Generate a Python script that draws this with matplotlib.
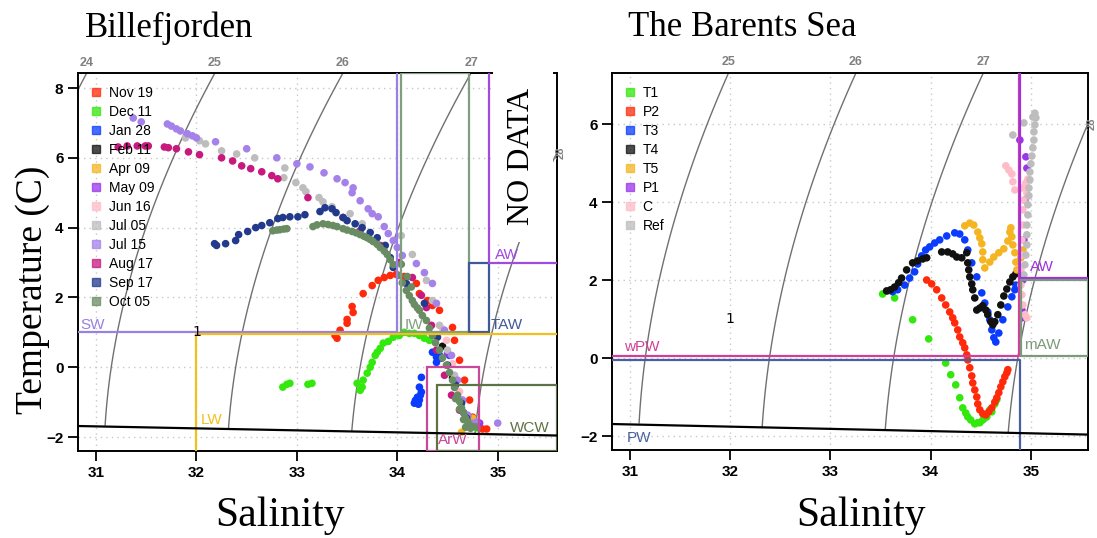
import numpy as np
import matplotlib
matplotlib.use('Agg')
import matplotlib.pyplot as plt
from matplotlib.lines import Line2D
from matplotlib.patches import Rectangle

# ---------------- Billefjorden (salinity / temperature) ----------------
nov19_s = [33.38, 33.40, 33.43, 33.50, 33.50, 33.56, 33.55, 33.66, 33.75, 33.81, 33.87, 33.93, 33.99, 34.07,
           34.19, 34.22, 34.30, 34.35, 34.42, 34.55, 34.57, 34.62, 34.67, 34.72, 34.75, 34.80, 34.85, 34.89]
nov19_t = [0.91, 0.83, 1.06, 1.26, 1.37, 1.57, 1.74, 2.11, 2.34, 2.49, 2.57, 2.63, 2.66, 2.60,
           2.40, 2.11, 1.91, 1.77, 1.63, 1.14, 0.77, 0.20, -0.37, -0.94, -1.43, -1.60, -1.77, -1.77]

dec11_s = [32.86, 32.90, 32.93, 33.11, 33.15, 33.60, 33.63, 33.65, 33.66, 33.70, 33.73, 33.75, 33.78,
           33.80, 33.83, 33.86, 33.91, 33.96, 34.02, 34.07, 34.12, 34.17, 34.22, 34.27, 34.32, 34.79]
dec11_t = [-0.57, -0.49, -0.46, -0.49, -0.46, -0.46, -0.66, -0.57, -0.37, -0.17, 0.00, 0.14, 0.34,
           0.43, 0.54, 0.69, 0.74, 0.86, 0.91, 1.00, 0.97, 0.97, 0.91, 0.83, 0.77, -1.74]

jan28_s = [34.35, 34.39, 34.42, 34.44, 34.39, 34.24, 34.22, 34.24, 34.20, 34.19, 34.22, 34.17, 34.21,
           34.18, 34.23, 34.52, 34.58, 34.66]
jan28_t = [0.43, 0.29, 0.34, 0.26, 0.14, -0.29, -0.57, -0.71, -0.86, -1.00, -0.94, -1.03, -1.06,
           -0.95, -0.80, 0.34, -0.40, -1.30]

feb11_s = [34.45, 34.55, 34.63, 34.70]
feb11_t = [0.60, -0.30, -1.00, -1.50]

apr09_s = [34.64, 34.70, 34.75]
apr09_t = [-1.86, -1.70, -1.46]

may09_s = [34.50, 34.60, 34.70, 34.82]
may09_t = [0.40, -0.90, -1.40, -1.60]

jun16_s = [34.45, 34.49, 34.55, 34.62]
jun16_t = [1.10, 0.77, 0.10, -0.70]

jul05_s = [31.89, 32.03, 32.09, 32.25, 32.40, 32.58, 32.88, 32.87, 32.99, 33.06, 33.09, 33.22, 33.26,
           33.35, 33.53, 33.65, 34.04, 34.15, 34.29, 34.35, 34.42, 34.50, 34.57, 34.64, 34.69]
jul05_t = [6.57, 6.49, 6.40, 6.20, 6.11, 6.00, 5.71, 5.43, 5.29, 5.14, 5.03, 4.86, 4.74,
           4.60, 4.40, 4.11, 3.77, 3.23, 2.49, 1.91, 1.20, 0.49, -0.23, -0.94, -1.46]

jul15_s = [31.37, 31.45, 31.71, 31.75, 31.80, 31.84, 31.91, 31.96, 32.00, 32.19, 32.50, 32.80, 33.00,
           33.13, 33.27, 33.40, 33.48, 33.56, 33.55, 33.63, 33.71, 33.75, 33.81, 33.87, 33.91, 33.96,
           34.00, 34.05, 34.19, 34.27, 34.35, 34.39, 34.47, 34.54, 34.60, 34.65, 34.70, 34.74, 34.79, 35.00]
jul15_t = [7.14, 7.03, 6.97, 6.91, 6.83, 6.77, 6.69, 6.63, 6.57, 6.46, 6.26, 6.00, 5.83,
           5.74, 5.57, 5.40, 5.29, 5.14, 5.00, 4.77, 4.54, 4.40, 4.31, 4.03, 3.83, 3.63,
           3.43, 3.20, 2.97, 2.71, 2.40, 1.83, 1.06, 0.34, -0.37, -0.94, -1.37, -1.60, -1.57, -1.60]

aug17_s = [31.22, 31.31, 31.41, 31.49, 31.52, 31.68, 31.72, 31.80, 31.92, 32.03, 32.25, 32.36, 32.45,
           32.54, 32.65, 32.75, 32.81, 33.11, 33.46, 33.63, 33.83, 34.02, 34.15, 34.24, 34.29, 34.34,
           34.39, 34.47, 34.54, 34.62, 34.69]
aug17_t = [6.31, 6.34, 6.34, 6.34, 6.34, 6.31, 6.29, 6.26, 6.17, 6.09, 6.00, 5.91, 5.77,
           5.69, 5.60, 5.49, 5.40, 4.86, 4.29, 3.91, 3.49, 3.00, 2.57, 2.06, 1.71, 1.20,
           0.49, -0.23, -0.80, -1.23, -1.51]

sep17_s = [32.18, 32.20, 32.29, 32.39, 32.42, 32.51, 32.59, 32.65, 32.73, 32.81, 32.86, 32.93, 33.01,
           33.08, 33.23, 33.28, 33.35, 33.39, 33.46, 33.50, 33.58, 33.65, 33.73, 33.80, 33.88, 33.93,
           33.96, 34.09, 34.27, 34.40, 34.50, 34.58, 34.64, 34.69]
sep17_t = [3.54, 3.49, 3.54, 3.63, 3.80, 3.89, 4.00, 4.06, 4.14, 4.26, 4.29, 4.31, 4.31,
           4.37, 4.46, 4.57, 4.54, 4.43, 4.29, 4.20, 4.11, 4.00, 3.86, 3.71, 3.49, 3.14,
           2.86, 2.40, 1.83, 0.86, 0.06, -0.51, -1.03, -1.46]

oct05_s = [32.76, 32.80, 32.83, 32.87, 32.90, 33.16, 33.20, 33.26, 33.31, 33.36, 33.40, 33.46, 33.50,
           33.55, 33.59, 33.63, 33.67, 33.70, 33.73, 33.76, 33.80, 33.83, 33.87, 33.90, 33.93, 33.96,
           34.02, 34.05, 34.09, 34.12, 34.15, 34.17, 34.20, 34.22, 34.25, 34.29, 34.32, 34.35, 34.38,
           34.42, 34.45, 34.49, 34.52, 34.55, 34.57, 34.60, 34.62, 34.64, 34.66, 34.68, 34.70, 34.72,
           34.75, 34.79, 34.04, 34.10, 34.14, 34.58, 34.62, 34.66, 34.68, 34.73]
oct05_t = [3.91, 3.93, 3.94, 3.96, 3.97, 4.03, 4.08, 4.11, 4.09, 4.06, 4.03, 3.97, 3.93,
           3.89, 3.85, 3.80, 3.75, 3.71, 3.66, 3.60, 3.52, 3.43, 3.33, 3.23, 3.08, 2.94,
           2.63, 2.42, 2.20, 2.05, 1.91, 1.80, 1.70, 1.63, 1.48, 1.34, 1.12, 0.91, 0.70,
           0.49, 0.27, 0.06, -0.15, -0.37, -0.58, -0.80, -0.98, -1.17, -1.31, -1.46, -1.56, -1.66,
           -1.70, -1.71, 2.95, 2.60, 2.30, -0.90, -1.20, -1.50, -1.72, -1.75]

bille_labels = ['Nov 19', 'Dec 11', 'Jan 28', 'Feb 11', 'Apr 09', 'May 09', 'Jun 16', 'Jul 05',
                'Jul 15', 'Aug 17', 'Sep 17', 'Oct 05']
bille_colors = ['#ff2a0a', '#33e80c', '#0a3cff', '#111111', '#f5b522', '#9a35ea', '#ffbcc8', '#bdbdbd',
                '#a582ea', '#c8197f', '#22398c', '#6a8c62']
bille_s = [nov19_s, dec11_s, jan28_s, feb11_s, apr09_s, may09_s, jun16_s, jul05_s, jul15_s, aug17_s, sep17_s, oct05_s]
bille_t = [nov19_t, dec11_t, jan28_t, feb11_t, apr09_t, may09_t, jun16_t, jul05_t, jul15_t, aug17_t, sep17_t, oct05_t]

# ---------------- Barents Sea stations ----------------
t1_s = [33.52, 33.57, 33.64, 33.82, 33.98, 34.15, 34.20, 34.25, 34.29, 34.32, 34.35, 34.37, 34.40, 34.44,
        34.47, 34.49, 34.52, 34.54, 34.56, 34.59, 34.61, 34.64, 34.66]
t1_t = [1.65, 1.73, 1.55, 0.99, 0.50, -0.12, -0.42, -0.68, -1.01, -1.27, -1.40, -1.50, -1.58, -1.68,
        -1.65, -1.65, -1.58, -1.53, -1.50, -1.32, -1.37, -1.17, -1.06]

p2_s = [33.96, 34.01, 34.06, 34.11, 34.15, 34.19, 34.22, 34.24, 34.27, 34.29, 34.32, 34.34, 34.36, 34.37,
        34.39, 34.41, 34.42, 34.44, 34.46, 34.47, 34.49, 34.52, 34.55, 34.58, 34.61, 34.64, 34.66, 34.68,
        34.70, 34.72, 34.74, 34.76, 34.77]
p2_t = [2.01, 1.91, 1.76, 1.55, 1.37, 1.19, 1.04, 0.91, 0.73, 0.55, 0.40, 0.27, 0.09, -0.04,
        -0.24, -0.45, -0.63, -0.81, -0.99, -1.17, -1.32, -1.42, -1.45, -1.37, -1.27, -1.12, -1.01, -0.88,
        -0.73, -0.60, -0.47, -0.37, -0.29]

t3_s = [33.62, 33.67, 33.74, 33.79, 33.84, 33.87, 33.91, 33.95, 33.99, 34.04, 34.09, 34.16, 34.24, 34.29,
        34.34, 34.37, 34.41, 34.46, 34.51, 34.54, 34.57, 34.59, 34.61, 34.63, 34.65, 34.68, 34.72, 34.77,
        34.81, 34.84, 34.85]
t3_t = [1.71, 1.76, 1.88, 2.06, 2.22, 2.42, 2.63, 2.78, 2.86, 2.96, 3.04, 3.14, 3.22, 3.19,
        3.04, 2.78, 2.45, 2.09, 1.68, 1.42, 1.19, 0.99, 0.73, 0.53, 0.42, 0.65, 0.99, 1.32,
        1.58, 1.76, 1.88]

t4_s = [33.56, 33.60, 33.64, 33.68, 33.71, 33.76, 33.82, 33.87, 33.92, 33.96, 34.11, 34.17, 34.22, 34.26,
        34.31, 34.36, 34.37, 34.38, 34.39, 34.41, 34.42, 34.44, 34.46, 34.49, 34.52, 34.55, 34.57, 34.60,
        34.62, 34.64, 34.67, 34.70, 34.73, 34.76, 34.79, 34.82, 34.85]
t4_t = [1.73, 1.76, 1.83, 1.94, 2.06, 2.27, 2.45, 2.50, 2.55, 2.58, 2.73, 2.73, 2.68, 2.60,
        2.58, 2.71, 2.45, 2.27, 2.09, 1.91, 1.76, 1.55, 1.24, 1.29, 1.35, 1.24, 1.12, 0.94,
        0.86, 0.94, 1.12, 1.37, 1.60, 1.78, 1.96, 2.09, 2.17]

t5_s = [34.34, 34.39, 34.43, 34.47, 34.49, 34.51, 34.52, 34.52, 34.54, 34.59, 34.63, 34.68, 34.73, 34.77,
        34.79, 34.80, 34.81, 34.82, 34.84, 34.85, 34.86, 34.90, 34.92]
t5_t = [3.40, 3.47, 3.42, 3.24, 3.09, 2.94, 2.73, 2.53, 2.32, 2.47, 2.60, 2.71, 2.81, 3.01,
        3.24, 3.35, 3.12, 2.91, 2.71, 2.47, 2.27, 2.58, 2.78]

p1_s = [34.89, 34.95, 34.96, 34.94, 34.93, 34.92, 34.91, 34.91]
p1_t = [5.60, 5.17, 4.88, 4.06, 3.04, 2.01, 1.24, 1.04]

c_s = [34.75, 34.78, 34.81, 34.82, 34.84, 34.91, 34.95, 34.97, 34.96, 34.93, 34.92, 34.92, 34.91, 34.91,
       34.90, 34.90, 34.91, 34.92, 34.94, 34.96]
c_t = [4.94, 4.83, 4.73, 4.53, 4.32, 4.37, 4.50, 4.60, 4.24, 4.06, 3.81, 3.42, 3.04, 2.65,
       2.27, 1.88, 1.63, 1.37, 1.12, 1.04]

ref_s = [34.82, 34.93, 35.02, 35.04, 35.05, 35.04, 35.03, 35.03, 35.02, 35.01, 35.00, 34.99, 34.99, 34.98,
         34.98, 34.97, 34.97, 34.96, 34.96, 34.96, 34.95, 34.94, 34.93]
ref_t = [5.73, 6.04, 6.19, 6.29, 6.17, 5.99, 5.81, 5.60, 5.40, 5.19, 4.99, 4.78, 4.58, 4.37,
         4.17, 3.94, 3.68, 3.42, 3.17, 2.91, 2.65, 2.40, 2.14]

bar_labels = ['T1', 'P2', 'T3', 'T4', 'T5', 'P1', 'C', 'Ref']
bar_colors = ['#33e80c', '#ff2a0a', '#0a3cff', '#111111', '#f5b522', '#9a35ea', '#ffbcc8', '#bdbdbd']
bar_s = [t1_s, p2_s, t3_s, t4_s, t5_s, p1_s, c_s, ref_s]
bar_t = [t1_t, p2_t, t3_t, t4_t, t5_t, p1_t, c_t, ref_t]

sigma_levels = [24, 25, 26, 27, 28]


def sigma0(S, T):
    # UNESCO 1980 equation of state at the surface
    rw = (999.842594 + 6.793952e-2 * T - 9.095290e-3 * T**2 + 1.001685e-4 * T**3
          - 1.120083e-6 * T**4 + 6.536332e-9 * T**5)
    A = 8.24493e-1 - 4.0899e-3 * T + 7.6438e-5 * T**2 - 8.2467e-7 * T**3 + 5.3875e-9 * T**4
    B = -5.72466e-3 + 1.0227e-4 * T - 1.6546e-6 * T**2
    C = 4.8314e-4
    return rw + A * S + B * S**1.5 + C * S**2 - 1000.0


def tfreeze(S):
    return -0.0575 * S + 1.710523e-3 * S**1.5 - 2.154996e-4 * S**2


serif = ['Liberation Serif', 'DejaVu Serif']


def ts_base(ax, xlim, ylim, yticks):
    ax.set_xlim(*xlim)
    ax.set_ylim(*ylim)
    ax.set_xticks([31, 32, 33, 34, 35])
    ax.set_yticks(yticks)
    for v in [31, 32, 33, 34, 35]:
        ax.axvline(v, color='#c8c8c8', ls=(0, (1, 3)), lw=1, zorder=0)
    for v in yticks:
        ax.axhline(v, color='#c8c8c8', ls=(0, (1, 3)), lw=1, zorder=0)
    ax.tick_params(direction='out', length=7, width=1.3, labelsize=11, top=False, right=False)
    for lab in ax.get_xticklabels() + ax.get_yticklabels():
        lab.set_fontweight('bold')
        lab.set_family('Liberation Sans')
    for sp in ax.spines.values():
        sp.set_linewidth(1.4)

    # isopycnals, not drawn below the freezing line
    ss = np.linspace(xlim[0], xlim[1], 300)
    tt = np.linspace(ylim[0], ylim[1], 300)
    SS, TT = np.meshgrid(ss, tt)
    sig = sigma0(SS, TT)
    sig = np.ma.masked_where(TT < tfreeze(SS), sig)
    ax.contour(SS, TT, sig, levels=sigma_levels, colors='#707070', linewidths=1.0, zorder=1)
    ax.plot(ss, tfreeze(ss), color='black', lw=1.6, zorder=4)

    # isopycnal labels on top / right margin
    sfine = np.linspace(xlim[0], xlim[1], 2000)
    top_sig = sigma0(sfine, ylim[1])
    tfine = np.linspace(ylim[0], ylim[1], 2000)
    right_sig = sigma0(xlim[1], tfine)
    for lev in sigma_levels:
        if top_sig.min() < lev < top_sig.max():
            s_at = np.interp(lev, top_sig, sfine)
            ax.text(s_at, ylim[1] + 0.12, str(lev), ha='center', va='bottom', fontsize=9,
                    fontweight='bold', color='#808080', family='Liberation Sans', clip_on=False)
        elif right_sig.min() < lev < right_sig.max():
            t_at = np.interp(lev, right_sig[::-1], tfine[::-1])
            ax.text(xlim[1] + 0.04, t_at, str(lev), ha='center', va='center', rotation=90, fontsize=8,
                    fontweight='bold', color='#808080', family='Liberation Sans', clip_on=False)
    ax.text(32, 1.0, '1', ha='center', va='center', fontsize=10, color='black', zorder=5)


def mass_label(ax, x, y, txt, col, ha='left', va='bottom'):
    ax.text(x, y, txt, color=col, fontsize=11, ha=ha, va=va, family='Liberation Sans', zorder=6)


def add_legend(ax, labels, colors):
    handles = [Line2D([], [], ls='none', marker='s', markersize=5.5, markerfacecolor=c,
                      markeredgecolor=c, alpha=0.75) for c in colors]
    ax.legend(handles, labels, loc='upper left', frameon=False, handlelength=0.8,
              handletextpad=0.5, labelspacing=0.36, borderaxespad=0.5,
              prop={'family': 'Liberation Sans', 'size': 10})


fig = plt.figure(figsize=(10.97, 5.38), dpi=100)

# ---------------- left panel ----------------
axl = fig.add_axes([0.0711, 0.1617, 0.4366, 0.7026])
xl, yl = (30.82, 35.59), (-2.4, 8.43)
ts_base(axl, xl, yl, [-2, 0, 2, 4, 6, 8])
for s, t, c in zip(bille_s, bille_t, bille_colors):
    axl.scatter(s, t, s=30, color=c, edgecolors='none', zorder=2)

lw = 1.6
c_sw, c_iw, c_taw, c_aw = '#9a80e2', '#7f9f7f', '#3f5a96', '#a04ae2'
c_lw, c_arw, c_wcw = '#f2c01e', '#c8489a', '#5d7245'
axl.plot([xl[0], 34.0, 34.0], [1.0, 1.0, yl[1]], color=c_sw, lw=lw, zorder=3)
axl.add_patch(Rectangle((34.04, 1.0), 0.67, yl[1] - 1.0, fill=False, ec=c_iw, lw=lw, zorder=3))
axl.add_patch(Rectangle((34.71, 1.0), 0.20, 2.0, fill=False, ec=c_taw, lw=lw, zorder=3))
axl.plot([34.91, 34.91, xl[1]], [yl[1], 3.0, 3.0], color=c_aw, lw=lw, zorder=3)
axl.plot([xl[1], 32.0, 32.0], [0.94, 0.94, yl[0]], color=c_lw, lw=lw, zorder=3)
axl.add_patch(Rectangle((34.30, yl[0]), 0.51, 0.0 - yl[0], fill=False, ec=c_arw, lw=lw, zorder=3))
axl.add_patch(Rectangle((34.40, yl[0]), xl[1] - 34.40, -0.51 - yl[0], fill=False, ec=c_wcw, lw=lw, zorder=3))
mass_label(axl, 30.84, 1.02, 'SW', c_sw)
mass_label(axl, 34.07, 1.02, 'IW', c_iw)
mass_label(axl, 34.93, 1.02, 'TAW', c_taw)
mass_label(axl, 34.97, 3.02, 'AW', c_aw)
mass_label(axl, 32.04, -1.72, 'LW', c_lw)
mass_label(axl, 34.55, -2.09, 'ArW', c_arw, ha='center', va='center')
mass_label(axl, 35.12, -1.74, 'WCW', c_wcw, va='center')
add_legend(axl, bille_labels, bille_colors)

# no-data strip
axl.add_patch(Rectangle((34.95, 3.6), 0.60, 5.2, fc='white', ec='none', zorder=7, clip_on=False))
axl.text(35.24, 6.05, 'NO DATA', rotation=90, ha='center', va='center', fontsize=23,
         family=serif, zorder=8)

# ---------------- right panel ----------------
axr = fig.add_axes([0.5579, 0.1636, 0.4339, 0.7007])
xr, yr = (30.82, 35.57), (-2.35, 7.32)
ts_base(axr, xr, yr, [-2, 0, 2, 4, 6])
for s, t, c in zip(bar_s, bar_t, bar_colors):
    axr.scatter(s, t, s=30, color=c, edgecolors='none', zorder=2)

c_wpw, c_pw, c_aw2, c_maw = '#d0409a', '#4a5fa0', '#a030e0', '#7a9a7a'
axr.plot([xr[0], 34.88, 34.88], [0.05, 0.05, yr[1]], color=c_wpw, lw=lw, zorder=3)
axr.plot([xr[0], 34.89, 34.89], [-0.05, -0.05, yr[0]], color=c_pw, lw=lw, zorder=3)
axr.plot([34.89, 34.89, xr[1]], [yr[1], 2.05, 2.05], color=c_aw2, lw=lw, zorder=3)
axr.add_patch(Rectangle((34.90, 0.05), xr[1] - 34.90, 1.95, fill=False, ec=c_maw, lw=lw, zorder=3))
mass_label(axr, 30.94, 0.1, 'wPW', c_wpw)
mass_label(axr, 30.97, -2.04, 'PW', c_pw, va='center')
mass_label(axr, 34.99, 2.35, 'AW', c_aw2, va='center')
mass_label(axr, 34.93, 0.35, 'mAW', c_maw, va='center')
add_legend(axr, bar_labels, bar_colors)

# titles and axis names
fig.text(85 / 1097, 1 - 28 / 538, 'Billefjorden', fontsize=25, family=serif, va='center', ha='left')
fig.text(628 / 1097, 1 - 28 / 538, 'The Barents Sea', fontsize=25, family=serif, va='center', ha='left')
fig.text(280 / 1097, 1 - 516 / 538, 'Salinity', fontsize=30, family=serif, va='center', ha='center')
fig.text(861 / 1097, 1 - 516 / 538, 'Salinity', fontsize=30, family=serif, va='center', ha='center')
fig.text(33 / 1097, 1 - 290 / 538, 'Temperature (C)', fontsize=27, family=serif, rotation=90,
         va='center', ha='center')

fig.savefig('out.png', dpi=100)
